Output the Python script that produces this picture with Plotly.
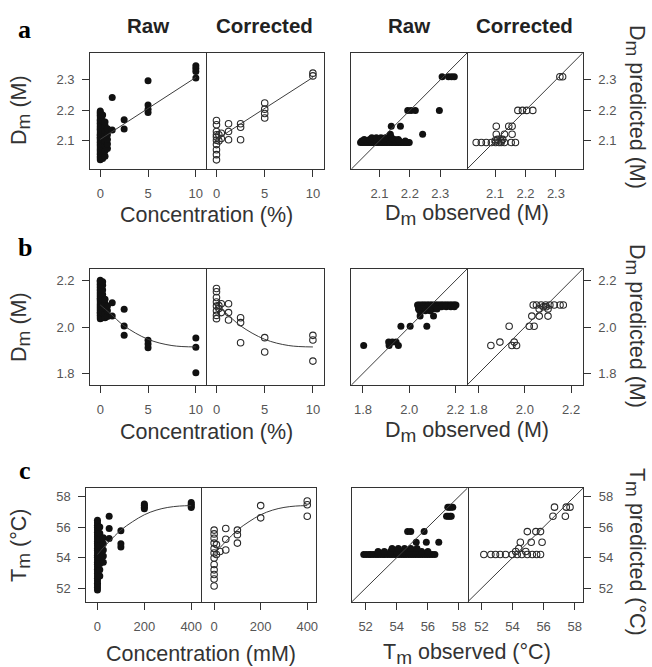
import plotly.graph_objects as go

# ---------------------------------------------------------------------------
# a: Dm (M) versus additive concentration (%)
# ---------------------------------------------------------------------------
a_levels = [0, 0.25, 0.5, 0.75, 1.25, 2.5, 5, 10]
a_pred = [2.095, 2.100, 2.105, 2.110, 2.122, 2.148, 2.200, 2.310]
a_raw = [
    [2.038, 2.044, 2.049, 2.056, 2.061, 2.067, 2.072, 2.078, 2.083, 2.088, 2.094,
     2.097, 2.103, 2.108, 2.112, 2.118, 2.121, 2.127, 2.133, 2.138, 2.142, 2.147,
     2.153, 2.158, 2.163, 2.168, 2.172, 2.178, 2.184, 2.189, 2.193, 2.198],
    [2.042, 2.058, 2.073, 2.089, 2.104, 2.119, 2.134, 2.150, 2.165, 2.185],
    [2.050, 2.068, 2.085, 2.100, 2.117, 2.133, 2.150, 2.162],
    [2.075, 2.090, 2.105, 2.120, 2.140],
    [2.136, 2.242],
    [2.139, 2.169],
    [2.193, 2.204, 2.218, 2.297],
    [2.306, 2.327, 2.337, 2.346],
]
a_cor = [
    [2.038, 2.055, 2.071, 2.088, 2.102, 2.113, 2.120, 2.131, 2.153, 2.167],
    [2.100, 2.120],
    [2.108, 2.125],
    [],
    [2.104, 2.131, 2.156],
    [2.104, 2.145, 2.156],
    [2.175, 2.190, 2.204, 2.224],
    [2.313, 2.322],
]
a_fit_conc = [0, 10]
a_fit_dm = [2.105, 2.308]

# ---------------------------------------------------------------------------
# b: Dm (M) versus additive concentration (%)
# ---------------------------------------------------------------------------
b_levels = [0, 0.25, 0.5, 0.75, 1.25, 2.5, 5, 10]
b_pred = [2.095, 2.087, 2.078, 2.070, 2.047, 2.003, 1.935, 1.920]
b_raw = [
    [2.036, 2.043, 2.051, 2.058, 2.064, 2.071, 2.078, 2.084, 2.091, 2.097, 2.104,
     2.112, 2.118, 2.124, 2.131, 2.138, 2.144, 2.151, 2.158, 2.164, 2.171, 2.178,
     2.184, 2.191, 2.197, 2.202],
    [2.040, 2.060, 2.080, 2.100, 2.120, 2.140, 2.160, 2.180, 2.195],
    [2.040, 2.060, 2.080, 2.100, 2.120],
    [2.045, 2.070, 2.090],
    [2.047, 2.105],
    [1.964, 2.004, 2.076],
    [1.911, 1.927, 1.943],
    [1.803, 1.913, 1.953],
]
b_cor = [
    [2.036, 2.050, 2.070, 2.090, 2.108, 2.127, 2.152, 2.166],
    [2.080, 2.092],
    [2.062, 2.100],
    [],
    [2.030, 2.062, 2.100],
    [1.932, 2.019, 2.040],
    [1.892, 1.954],
    [1.853, 1.944, 1.964],
]
b_fit_conc = [0, 1, 2.5, 5, 7.5, 10]
b_fit_dm = [2.095, 2.060, 2.005, 1.947, 1.920, 1.914]

# ---------------------------------------------------------------------------
# c: Tm (°C) versus additive concentration (mM)
# ---------------------------------------------------------------------------
c_levels = [0, 10, 25, 50, 100, 200, 400]
c_pred = [54.2, 54.4, 54.6, 55.0, 55.7, 56.7, 57.3]
c_raw = [
    [51.88, 52.04, 52.21, 52.33, 52.49, 52.66, 52.80, 52.97, 53.12, 53.24, 53.41,
     53.57, 53.70, 53.86, 54.02, 54.15, 54.31, 54.46, 54.60, 54.77, 54.92, 55.06,
     55.21, 55.37, 55.50, 55.66, 55.82, 55.97, 56.12, 56.28, 56.45],
    [52.8, 53.2, 53.6, 54.0, 54.4, 54.8, 55.2, 55.6, 56.0],
    [53.7, 54.1, 54.5, 54.9, 55.3],
    [55.25, 55.9, 56.7],
    [54.7, 54.9, 55.76],
    [57.2, 57.3, 57.42, 57.5],
    [57.28, 57.38, 57.48, 57.6],
]
c_cor = [
    [52.15, 52.6, 52.9, 53.2, 53.55, 53.98, 54.3, 54.6, 54.95, 55.27, 55.55, 55.8],
    [54.2, 54.85],
    [54.4],
    [54.5, 55.2, 55.9],
    [54.95, 55.5, 55.8],
    [56.6, 57.4],
    [56.7, 57.46, 57.7],
]
c_fit_conc = [0, 25, 50, 100, 150, 200, 250, 300, 350, 400]
c_fit_tm = [54.2, 54.65, 55.05, 55.8, 56.35, 56.8, 57.1, 57.28, 57.37, 57.4]

# ---------------------------------------------------------------------------
# styling
# ---------------------------------------------------------------------------
W, H = 652, 667
SANS = "Liberation Sans, Arial, Helvetica, sans-serif"
SERIF = "Liberation Serif, Times New Roman, serif"
INK = "#111111"
RING = "#2a2a2a"
FRAME = "#333333"
CURVE = "#3c3c3c"
TICK_TXT = "#555555"
TITLE_TXT = "#333333"
TITLE_SIZE = 21.5
SUB = "<sub><span style='font-size:19px'>m</span></sub>"


def flatten(levels, groups):
    xs, ys = [], []
    for lev, vals in zip(levels, groups):
        for v in vals:
            xs.append(lev)
            ys.append(v)
    return xs, ys


def observed_vs_predicted(pred, groups):
    obs, prd = [], []
    for p, vals in zip(pred, groups):
        for v in vals:
            obs.append(v)
            prd.append(p)
    return obs, prd


rows = [
    dict(levels=a_levels, pred=a_pred, raw=a_raw, cor=a_cor,
         fit_x=a_fit_conc, fit_y=a_fit_dm,
         yrange=[2.008, 2.388], yticks=[2.1, 2.2, 2.3],
         xr_raw=[-1.05, 11.1], xr_cor=[-1.05, 11.1], xticks=[0, 5, 10],
         top=53, bottom=169, lx=(90.5, 207, 324.5), rx=(352.5, 468.5, 584.5),
         xlab="Concentration (%)", olab="D" + SUB + " observed (M)",
         ylab="D" + SUB + " (M)", plab="D" + SUB + " predicted (M)",
         letter="a", letter_y=29.5, xlab_y=215, ylab_y=110, plab_y=107),
    dict(levels=b_levels, pred=b_pred, raw=b_raw, cor=b_cor,
         fit_x=b_fit_conc, fit_y=b_fit_dm,
         yrange=[1.75, 2.25], yticks=[1.8, 2.0, 2.2],
         xr_raw=[-1.05, 11.1], xr_cor=[-1.05, 11.1], xticks=[0, 5, 10],
         top=269, bottom=385, lx=(90.5, 207, 324.5), rx=(352.5, 468.5, 584.5),
         xlab="Concentration (%)", olab="D" + SUB + " observed (M)",
         ylab="D" + SUB + " (M)", plab="D" + SUB + " predicted (M)",
         letter="b", letter_y=248, xlab_y=432, ylab_y=327, plab_y=326),
    dict(levels=c_levels, pred=c_pred, raw=c_raw, cor=c_cor,
         fit_x=c_fit_conc, fit_y=c_fit_tm,
         yrange=[51.1, 58.55], yticks=[52, 54, 56, 58],
         xr_raw=[-47, 442], xr_cor=[-56, 439], xticks=[0, 200, 400],
         top=488, bottom=602, lx=(86.7, 201.7, 317.3), rx=(352.7, 469, 585),
         xlab="Concentration (mM)", olab="T" + SUB + " observed (°C)",
         ylab="T" + SUB + " (°C)", plab="T" + SUB + " predicted (°C)",
         letter="c", letter_y=470.5, xlab_y=654, ylab_y=545, plab_y=552),
]

fig = go.Figure()
layout = {}
annotations = []

base_axis = dict(showline=True, mirror=True, linecolor=FRAME, linewidth=1,
                 showgrid=False, zeroline=False, fixedrange=True,
                 ticks="outside", ticklen=7, tickwidth=1, tickcolor=FRAME,
                 tickfont=dict(family=SANS, size=13, color=TICK_TXT))


def ax_names(i):
    sfx = "" if i == 1 else str(i)
    return "xaxis" + sfx, "yaxis" + sfx, "x" + sfx, "y" + sfx


for r, row in enumerate(rows):
    ydom = [1 - row["bottom"] / H, 1 - row["top"] / H]
    spans = [(row["lx"][0], row["lx"][1]), (row["lx"][1], row["lx"][2]),
             (row["rx"][0], row["rx"][1]), (row["rx"][1], row["rx"][2])]
    for k in range(4):
        i = r * 4 + k + 1
        xa, ya, xr, yr = ax_names(i)
        x0, x1 = spans[k]
        xaxis = dict(base_axis, domain=[x0 / W, x1 / W], anchor=yr, ticklabelstandoff=5)
        yaxis = dict(base_axis, domain=ydom, anchor=xr, range=row["yrange"],
                     tickvals=row["yticks"], ticklabelstandoff=5)
        if r == 1:
            yaxis["tickformat"] = ".1f"
        if k < 2:
            xaxis["range"] = row["xr_raw"] if k == 0 else row["xr_cor"]
            xaxis["tickvals"] = row["xticks"]
        else:
            xaxis["range"] = row["yrange"]
            xaxis["tickvals"] = row["yticks"]
            if r == 1:
                xaxis["tickformat"] = ".1f"
        if k == 0:
            yaxis["side"] = "left"
        elif k == 2:
            yaxis["ticks"] = ""
            yaxis["showticklabels"] = False
        else:
            # the left edge is already drawn by the neighbouring panel
            yaxis["side"] = "right"
            yaxis["mirror"] = False
            if k == 1:
                yaxis["ticks"] = ""
                yaxis["showticklabels"] = False
        layout[xa] = xaxis
        layout[ya] = yaxis

        groups = row["raw"] if k in (0, 2) else row["cor"]
        if k in (0, 2):
            marker = dict(symbol="circle", size=7, color=INK, line=dict(width=0))
        else:
            marker = dict(symbol="circle-open", size=6.5, color=RING,
                          line=dict(width=1.1, color=RING))

        if k < 2:
            px, py = flatten(row["levels"], groups)
            fig.add_trace(go.Scatter(x=px, y=py, mode="markers", marker=marker,
                                     xaxis=xr, yaxis=yr, hoverinfo="skip"))
            fig.add_trace(go.Scatter(x=row["fit_x"], y=row["fit_y"], mode="lines",
                                     line=dict(color=CURVE, width=1, shape="spline", smoothing=1.0),
                                     xaxis=xr, yaxis=yr, hoverinfo="skip"))
        else:
            ox, oy = observed_vs_predicted(row["pred"], groups)
            fig.add_trace(go.Scatter(x=ox, y=oy, mode="markers", marker=marker,
                                     xaxis=xr, yaxis=yr, hoverinfo="skip"))
            lo, hi = row["yrange"]
            fig.add_trace(go.Scatter(x=[lo, hi], y=[lo, hi], mode="lines",
                                     line=dict(color=CURVE, width=1),
                                     xaxis=xr, yaxis=yr, hoverinfo="skip"))

    # row letter
    annotations.append(dict(text="<b>%s</b>" % row["letter"], x=25 / W, y=1 - row["letter_y"] / H,
                            xref="paper", yref="paper", xanchor="center", yanchor="middle",
                            showarrow=False, font=dict(family=SERIF, size=26, color="#000000")))
    # bottom axis titles
    annotations.append(dict(text=row["xlab"], x=(row["lx"][0] + row["lx"][2]) / 2 / W,
                            y=1 - row["xlab_y"] / H, xref="paper", yref="paper",
                            xanchor="center", yanchor="middle", showarrow=False,
                            font=dict(family=SANS, size=TITLE_SIZE, color=TITLE_TXT)))
    annotations.append(dict(text=row["olab"], x=(row["rx"][0] + row["rx"][2]) / 2 / W,
                            y=1 - row["xlab_y"] / H, xref="paper", yref="paper",
                            xanchor="center", yanchor="middle", showarrow=False,
                            font=dict(family=SANS, size=TITLE_SIZE, color=TITLE_TXT)))
    # vertical axis titles
    annotations.append(dict(text=row["ylab"], x=21 / W, y=1 - row["ylab_y"] / H,
                            xref="paper", yref="paper", xanchor="center", yanchor="middle",
                            textangle=-90, showarrow=False,
                            font=dict(family=SANS, size=TITLE_SIZE, color=TITLE_TXT)))
    annotations.append(dict(text=row["plab"], x=637 / W, y=1 - row["plab_y"] / H,
                            xref="paper", yref="paper", xanchor="center", yanchor="middle",
                            textangle=90, showarrow=False,
                            font=dict(family=SANS, size=TITLE_SIZE, color=TITLE_TXT)))

# column headings above the first row
first = rows[0]
heads = [("Raw", (first["lx"][0] + first["lx"][1]) / 2),
         ("Corrected", (first["lx"][1] + first["lx"][2]) / 2),
         ("Raw", (first["rx"][0] + first["rx"][1]) / 2),
         ("Corrected", (first["rx"][1] + first["rx"][2]) / 2)]
for txt, cx in heads:
    annotations.append(dict(text="<b>%s</b>" % txt, x=cx / W, y=1 - 25.5 / H,
                            xref="paper", yref="paper", xanchor="center", yanchor="middle",
                            showarrow=False, font=dict(family=SANS, size=20.5, color="#222222")))

fig.update_layout(
    width=W, height=H,
    margin=dict(l=0, r=0, t=0, b=0),
    paper_bgcolor="white", plot_bgcolor="white",
    showlegend=False,
    annotations=annotations,
    **layout,
)

fig.write_html("out.html")
